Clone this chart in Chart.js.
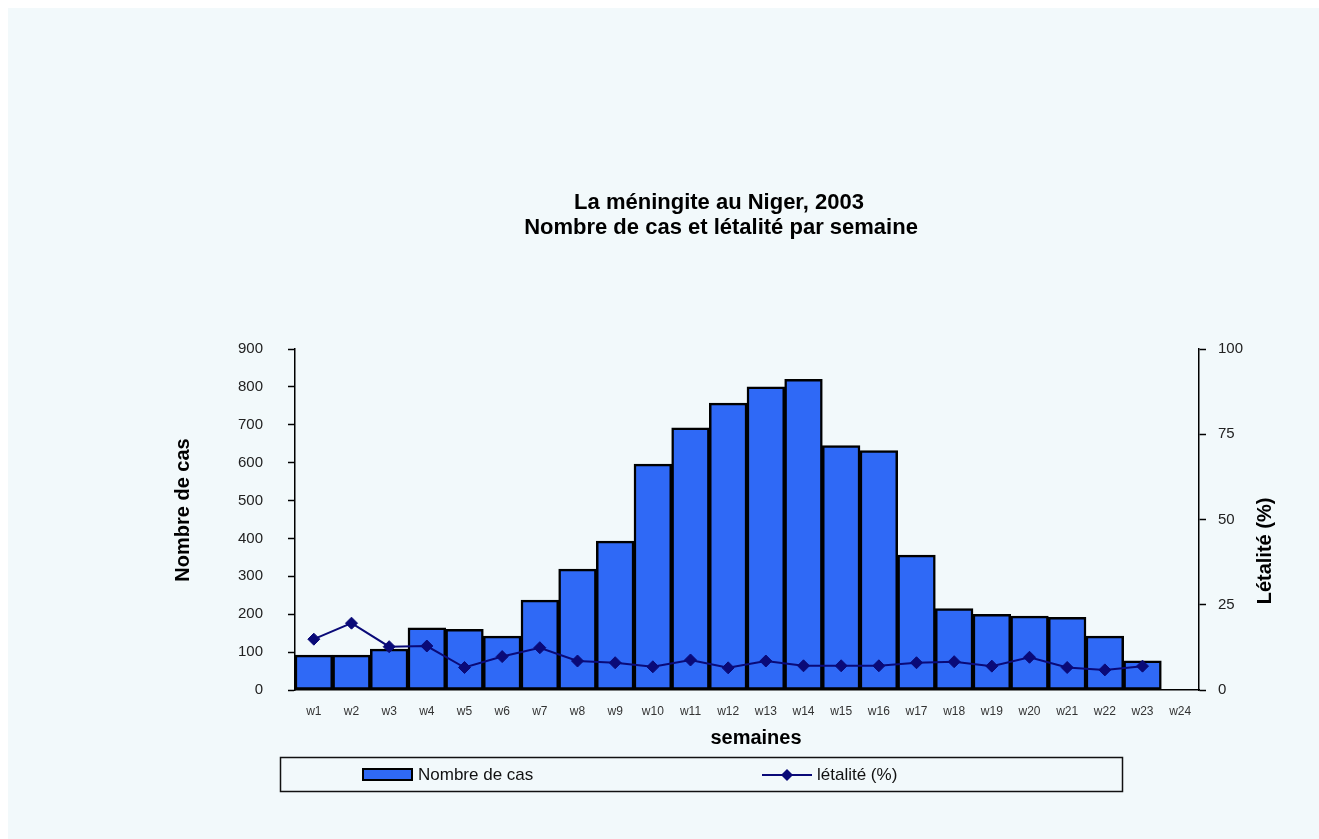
<!DOCTYPE html>
<html>
<head>
<meta charset="utf-8">
<title>La méningite au Niger, 2003</title>
<script src="https://cdn.jsdelivr.net/npm/chart.js@4/dist/chart.umd.min.js"></script>
<style>
  body { margin: 0; background: #ffffff; }
  #wrap { position: absolute; left: 8px; top: 8px; width: 1311px; height: 831px; background: #f2f9fb; }
</style>
</head>
<body>
<div id="wrap"><canvas id="meningite_chart"></canvas></div>
<script>
// weekly meningitis cases and case fatality, Niger 2003
var semaines = ["w1", "w2", "w3", "w4", "w5", "w6", "w7", "w8", "w9", "w10", "w11", "w12",
                "w13", "w14", "w15", "w16", "w17", "w18", "w19", "w20", "w21", "w22", "w23", "w24"];
var nombre_cas = [92, 92, 108, 164, 160, 142, 237, 319, 393, 596, 692, 757,
                  800, 820, 645, 632, 356, 215, 200, 195, 192, 142, 77, null];
var letalite = [14.9, 19.6, 12.7, 12.9, 6.6, 9.8, 12.4, 8.5, 8.0, 6.8, 8.8, 6.5,
                8.5, 7.1, 7.1, 7.1, 8.0, 8.3, 7.0, 9.6, 6.6, 5.9, 7.0, null];
var titre = ["La méningite au Niger, 2003", "Nombre de cas et létalité par semaine"];

var bleu_barre = "#2f69f6";
var bleu_ligne = "#0a0a78";
var police = "'Liberation Sans', Arial, sans-serif";

// titles and the boxed legend are drawn by hand
var textes = {
  id: 'textes',
  afterDraw: function(chart) {
    var ctx = chart.ctx;
    ctx.save();
    ctx.fillStyle = "#000";
    ctx.textAlign = "center";
    ctx.textBaseline = "middle";

    ctx.font = "bold 22px " + police;
    ctx.fillText(titre[0], 711, 195);
    ctx.fillText(titre[1], 713, 220);

    ctx.font = "bold 20px " + police;
    ctx.fillText("semaines", 748, 730);

    ctx.save();
    ctx.translate(175, 502);
    ctx.rotate(-Math.PI / 2);
    ctx.fillText("Nombre de cas", 0, 0);
    ctx.restore();

    ctx.save();
    ctx.translate(1257, 543);
    ctx.rotate(-Math.PI / 2);
    ctx.fillText("Létalité (%)", 0, 0);
    ctx.restore();

    // legend box
    ctx.lineWidth = 1.5;
    ctx.strokeStyle = "#111";
    ctx.strokeRect(272.5, 749.5, 842, 34);

    ctx.fillStyle = "#000";
    ctx.fillRect(354, 760, 51, 13);
    ctx.fillStyle = bleu_barre;
    ctx.fillRect(356, 762, 47, 9);

    ctx.strokeStyle = bleu_ligne;
    ctx.lineWidth = 2;
    ctx.beginPath();
    ctx.moveTo(754, 767);
    ctx.lineTo(804, 767);
    ctx.stroke();
    ctx.fillStyle = bleu_ligne;
    ctx.beginPath();
    ctx.moveTo(779, 761);
    ctx.lineTo(785, 767);
    ctx.lineTo(779, 773);
    ctx.lineTo(773, 767);
    ctx.closePath();
    ctx.fill();

    ctx.fillStyle = "#111";
    ctx.textAlign = "left";
    ctx.font = "17px " + police;
    ctx.fillText("Nombre de cas", 410, 767);
    ctx.fillText("létalité (%)", 809, 767);
    ctx.restore();
  }
};

new Chart(document.getElementById("meningite_chart"), {
  data: {
    labels: semaines,
    datasets: [{
        type: 'line',
        label: "létalité (%)",
        data: letalite,
        yAxisID: 'y2',
        borderColor: bleu_ligne,
        backgroundColor: bleu_ligne,
        borderWidth: 2,
        pointStyle: 'rectRot',
        pointRadius: 6,
        pointBorderWidth: 1,
        tension: 0,
        order: 0
      }, {
        type: 'bar',
        label: "Nombre de cas",
        data: nombre_cas,
        yAxisID: 'y',
        backgroundColor: bleu_barre,
        borderColor: "#000",
        borderWidth: 2.5,
        borderSkipped: false,
        barPercentage: 1,
        categoryPercentage: 1,
        order: 1
      }
    ]
  },
  options: {
    responsive: true,
    maintainAspectRatio: false,
    animation: false,
    layout: { padding: { left: 150, right: 20, top: 341, bottom: 79 } },
    plugins: {
      legend: { display: false },
      title: { display: false },
      tooltip: { enabled: false }
    },
    scales: {
      x: {
        afterFit: function(scale) { scale.height = 70; },
        grid: { display: false, drawTicks: false },
        border: { display: true, color: "#000", width: 1.5 },
        ticks: { color: "#333", padding: 14, maxRotation: 0, autoSkip: false,
                 font: { family: police, size: 12 } }
      },
      y: {
        position: 'left',
        min: 0,
        max: 900,
        afterFit: function(scale) { scale.width = 137; },
        grid: { drawOnChartArea: false, tickLength: 7, tickColor: "#000", tickWidth: 1.5 },
        border: { display: true, color: "#000", width: 1.5 },
        ticks: { stepSize: 100, color: "#222", padding: 25,
                 font: { family: police, size: 15 } }
      },
      y2: {
        position: 'right',
        min: 0,
        max: 100,
        afterFit: function(scale) { scale.width = 100; },
        grid: { drawOnChartArea: false, tickLength: 7, tickColor: "#000", tickWidth: 1.5 },
        border: { display: true, color: "#000", width: 1.5 },
        ticks: { stepSize: 25, color: "#222", padding: 12,
                 font: { family: police, size: 15 } }
      }
    }
  },
  plugins: [textes]
});
</script>
</body>
</html>
